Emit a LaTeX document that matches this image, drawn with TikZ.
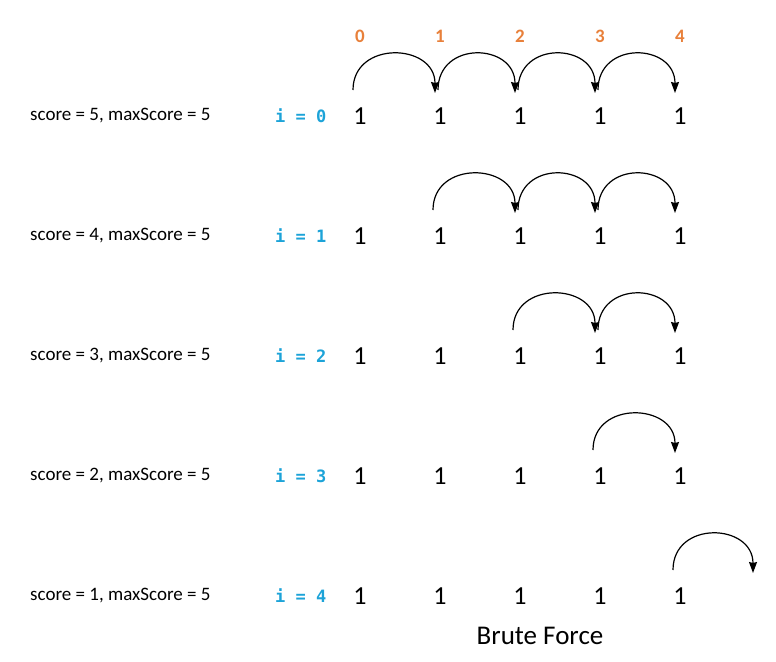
\documentclass[tikz,border=0pt]{standalone}
\usepackage{fontspec}
\setmainfont{Carlito}
\newfontfamily\monob{DejaVu Sans Mono}
\usetikzlibrary{arrows.meta}
\definecolor{idxorange}{HTML}{E8803A}
\definecolor{icyan}{HTML}{1CA3D8}
\tikzset{
  digit/.style={inner sep=0pt, font=\fontsize{26}{30}\selectfont},
  idx/.style={inner sep=0pt, text=idxorange, font=\bfseries\fontsize{19}{22}\selectfont},
  scorelbl/.style={inner sep=0pt, anchor=west, font=\fontsize{19}{22}\selectfont},
  ilbl/.style={inner sep=0pt, anchor=west, text=icyan, font=\monob\bfseries\fontsize{17}{20}\selectfont},
  jump/.style={line width=1.2pt, -{Stealth[length=11pt,width=8pt,inset=1pt]}},
  title/.style={inner sep=0pt, font=\fontsize{27}{31}\selectfont}
}
\begin{document}
\begin{tikzpicture}[x=1pt,y=-1pt]
\useasboundingbox (0,0) rectangle (776,661);
% column indices
\foreach \c in {0,...,4} {
  \node[idx] (idx\c) at (360+80*\c,36) {\c};
}
% rows
\foreach \r/\s in {0/5,1/4,2/3,3/2,4/1} {
  \node[scorelbl] (score\r) at (30,116+120*\r) {score = \s, maxScore = 5};
  \node[ilbl] (i\r) at (275,116+120*\r) {i = \r};
  \foreach \c in {0,...,4} {
    \node[digit] (d\r\c) at (360+80*\c,116+120*\r) {1};
    \coordinate (s\r\c) at (358+80*\c,90+120*\r);
    \coordinate (e\r\c) at (355+80*\c,93+120*\r);
  }
  \coordinate (f\r) at (353+80*\r,90+120*\r);
  \coordinate (e\r5) at (753,93+120*\r);
}
% jumps
\foreach \r/\last in {0/3,1/3,2/3,3/3,4/4} {
  \pgfmathtruncatemacro{\m}{\r+1}
  \draw[jump] (f\r) .. controls +(0,-50) and +(0,-50) .. (e\r\m);
  \foreach \c in {\r,...,\last} {
    \ifnum\c>\r
      \pgfmathtruncatemacro{\n}{\c+1}
      \draw[jump] (s\r\c) .. controls +(0,-50) and +(0,-50) .. (e\r\n);
    \fi
  }
}
\node[title] (bf) at (540,636) {Brute Force};
\end{tikzpicture}
\end{document}
